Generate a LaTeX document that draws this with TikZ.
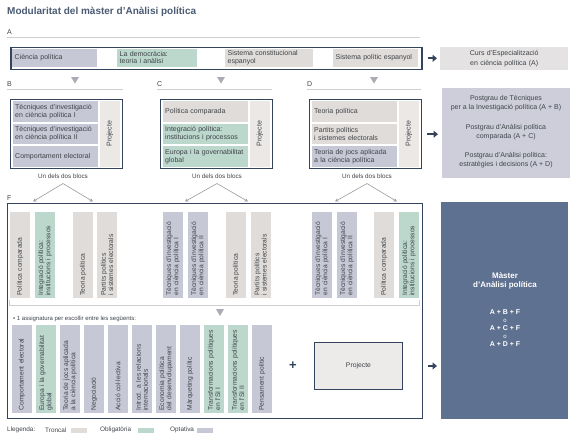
\documentclass[tikz,border=0pt]{standalone}
\usepackage{fontspec}
\setmainfont{Liberation Sans}
\usetikzlibrary{arrows.meta}
\definecolor{trc}{HTML}{E0DCD9}
\definecolor{obl}{HTML}{BCD8CC}
\definecolor{opt}{HTML}{C7C8D5}
\definecolor{prj}{HTML}{EBE8E6}
\definecolor{navy}{HTML}{34445C}
\definecolor{mst}{HTML}{5F7191}
\definecolor{cursc}{HTML}{E4E2E2}
\definecolor{pgc}{HTML}{CDCED9}
\definecolor{txt}{HTML}{3E4349}
\definecolor{ttl}{HTML}{4A5B73}
\definecolor{lgray}{HTML}{CFCFD2}
\definecolor{trig}{HTML}{ABABB3}
\definecolor{pickc}{HTML}{9A9AA2}
\definecolor{prjbox}{HTML}{ECEBEA}
\newcommand\cellfnt{\fontsize{7}{7.9}\selectfont\hyphenpenalty=10000 }
\newcommand\acellfnt{\fontsize{7}{7.3}\selectfont\hyphenpenalty=10000 }
\newcommand\colfnt{\fontsize{6.7}{7.2}\selectfont\hyphenpenalty=10000 }
\newcommand\smallfnt{\fontsize{6.3}{7}\selectfont}
\begin{document}
\begin{tikzpicture}[x=1pt,y=-1pt,
  hcell/.style={rectangle, anchor=north west, inner xsep=2.5pt, inner ysep=0pt, minimum height=20.5pt, text width=80pt, align=left, font=\cellfnt, text=txt},
  acell/.style={hcell, minimum height=18pt, font=\acellfnt},
  vcol/.style={rectangle, rotate=90, inner xsep=2.5pt, inner ysep=0pt, minimum height=20pt, align=left, font=\colfnt, text=txt},
  upcol/.style={vcol, text width=81pt},
  lowcol/.style={vcol, text width=83pt},
  prjcol/.style={rectangle, rotate=90, fill=prj, inner sep=0pt, minimum width=65.5pt, minimum height=20.5pt, font=\cellfnt, text=txt},
  blockbox/.style={rectangle, draw=navy, line width=1.4pt, anchor=north west, minimum width=112pt, minimum height=69pt, inner sep=0pt},
  sect/.style={anchor=west, inner sep=0pt, font=\fontsize{7}{8}\selectfont, text=txt},
  legtext/.style={anchor=west, inner sep=0pt, font=\fontsize{6.4}{8}\selectfont, text=txt},
  rulel/.style={draw=lgray, line width=0.7pt},
  bigarrow/.style={draw=navy, line width=2.2pt, -{Triangle[length=4.5pt,width=7pt]}},
  pick/.style={draw=pickc, line width=0.6pt, -{Stealth[length=3.5pt,width=3.5pt]}},
  blocs/.style={font=\smallfnt, text=txt, inner sep=1pt},
  info/.style={align=center, font=\cellfnt, text=txt, inner sep=0pt},
  panel/.style={rectangle, anchor=north west, inner sep=0pt}
]
\useasboundingbox (0,0) rectangle (580,440);
\fill[white] (0,0) rectangle (580,440);

% title
\node[anchor=west, inner sep=0pt, font=\bfseries\fontsize{10}{12}\selectfont, text=ttl] (title) at (7,12) {Modularitat del màster d’Anàlisi política};

% ---- A
\node[sect] (labA) at (7,32) {A};
\draw[rulel] (7,37) -- (420,37);
\node[panel, draw=navy, line width=1.6pt, minimum width=411pt, minimum height=22pt] (Abox) at (10,46.5) {};
\node[acell, fill=opt, text width=80pt] (a1) at (12,48.5) {Ciència política};
\node[acell, fill=obl, text width=75pt] (a2) at (117,48.5) {La democràcia:\\teoria i anàlisi};
\node[acell, fill=trc, text width=83pt] (a3) at (225,48.5) {Sistema constitucional\\espanyol};
\node[acell, fill=trc, text width=80pt] (a4) at (333,48.5) {Sistema polític espanyol};
\node[panel, fill=cursc, minimum width=128pt, minimum height=23pt] (curs) at (440,47) {};
\node[info, text width=126pt, font=\fontsize{7}{9.5}\selectfont] (cursT) at (curs.center) {Curs d’Especialització\\en ciència política (A)};
\draw[bigarrow, shorten <=5pt, shorten >=3pt] (Abox.east) -- (Abox.east -| curs.west);

% ---- section labels B C D
\node[sect] (labB) at (7,84) {B};
\node[sect] (labC) at (157,84) {C};
\node[sect] (labD) at (307,84) {D};
\draw[rulel] (7,89) -- (123,89);
\draw[rulel] (157,89) -- (272,89);
\draw[rulel] (307,89) -- (421,89);
\fill[trig] (71,77) -- (79,77) -- (75,83.5) -- cycle;
\fill[trig] (217,77) -- (225,77) -- (221,83.5) -- cycle;
\fill[trig] (370,77) -- (378,77) -- (374,83.5) -- cycle;

% ---- B
\node[blockbox] (Bbox) at (10,99) {};
\node[hcell, fill=opt] (b1) at (12.5,101) {Tècniques d’investigació\\en ciència política I};
\node[hcell, fill=opt] (b2) at (12.5,123.5) {Tècniques d’investigació\\en ciència política II};
\node[hcell, fill=opt] (b3) at (12.5,146) {Comportament electoral};
\node[prjcol] (bp) at (109.75,133.75) {Projecte};
% ---- C
\node[blockbox] (Cbox) at (160,99) {};
\node[hcell, fill=trc] (c1) at (162.5,101) {Política comparada};
\node[hcell, fill=obl] (c2) at (162.5,123.5) {Integració política:\\institucions i processos};
\node[hcell, fill=obl] (c3) at (162.5,146) {Europa i la governabilitat\\global};
\node[prjcol] (cp) at (259.75,133.75) {Projecte};
% ---- D
\node[blockbox] (Dbox) at (309,99) {};
\node[hcell, fill=trc] (d1) at (311.5,101) {Teoria política};
\node[hcell, fill=trc] (d2) at (311.5,123.5) {Partits polítics\\i sistemes electorals};
\node[hcell, fill=opt] (d3) at (311.5,146) {Teoria de jocs aplicada\\a la ciència política};
\node[prjcol] (dp) at (408.75,133.75) {Projecte};

% postgrau
\node[panel, fill=pgc, minimum width=128pt, minimum height=90pt] (pg) at (442,88) {};
\node[info, font=\fontsize{7}{9}\selectfont] (pg1) at (506,103.5) {Postgrau de Tècniques\\per a la Investigació política (A + B)};
\node[info, font=\fontsize{7}{9}\selectfont] (pg2) at (506,132.5) {Postgrau d’Anàlisi política\\comparada (A + C)};
\node[info, font=\fontsize{7}{9}\selectfont] (pg3) at (506,160.5) {Postgrau d’Anàlisi política:\\estratègies i decisions (A + D)};
\draw[bigarrow, shorten <=5pt, shorten >=4pt] (Dbox.east) -- (Dbox.east -| pg.west);

% un dels dos blocs
\node[blocs] (unB) at (63,176) {Un dels dos blocs};
\node[blocs] (unC) at (217,176) {Un dels dos blocs};
\node[blocs] (unD) at (367,176) {Un dels dos blocs};
\coordinate (pkB) at ([yshift=-4pt]unB.south);
\coordinate (pkC) at ([yshift=-4pt]unC.south);
\coordinate (pkD) at ([yshift=-4pt]unD.south);
\coordinate (gB1) at (33,201.5);
\coordinate (gB2) at (93,201.5);
\coordinate (gC1) at (185,201.5);
\coordinate (gC2) at (248,201.5);
\coordinate (gD1) at (335,201.5);
\coordinate (gD2) at (397,201.5);
\draw[pick] (pkB) -- (gB1);
\draw[pick] (pkB) -- (gB2);
\draw[pick] (pkC) -- (gC1);
\draw[pick] (pkC) -- (gC2);
\draw[pick] (pkD) -- (gD1);
\draw[pick] (pkD) -- (gD2);

% ---- F
\node[sect] (labF) at (7,198) {F};
\node[panel, draw=navy, line width=1.2pt, minimum width=415pt, minimum height=215pt] (Fbox) at (7,203) {};
% upper columns
\node[upcol, fill=trc] (f1) at (20,255) {Política comparada};
\node[upcol, fill=obl] (f2) at (45,255) {Integració política:\\institucions i processos};
\node[upcol, fill=trc] (f3) at (83,255) {Teoria política};
\node[upcol, fill=trc] (f4) at (107,255) {Partits polítics\\i sistemes electorals};
\node[upcol, fill=opt] (f5) at (173,255) {Tècniques d’investigació\\en ciència política I};
\node[upcol, fill=opt] (f6) at (198,255) {Tècniques d’investigació\\en ciència política II};
\node[upcol, fill=trc] (f7) at (236,255) {Teoria política};
\node[upcol, fill=trc] (f8) at (260.5,255) {Partits polítics\\i sistemes electorals};
\node[upcol, fill=opt] (f9) at (322,255) {Tècniques d’investigació\\en ciència política I};
\node[upcol, fill=opt] (f10) at (347,255) {Tècniques d’investigació\\en ciència política II};
\node[upcol, fill=trc] (f11) at (384,255) {Política comparada};
\node[upcol, fill=obl] (f12) at (409,255) {Integració política:\\institucions i processos};
% separator
\draw[rulel] (9.5,300) -- (9.5,305) -- (419.5,305) -- (419.5,300);
\fill[trig] (216,309) -- (224,309) -- (220,316) -- cycle;
\node[anchor=west, inner sep=0pt, font=\fontsize{6}{7}\selectfont, text=txt] (escollir) at (13,318.5) {\textbullet\ 1 assignatura per escollir entre les següents:};
% lower columns
\node[lowcol, fill=opt] (l1) at (22,369) {Comportament electoral};
\node[lowcol, fill=obl] (l2) at (46,369) {Europa i la governabilitat\\global};
\node[lowcol, fill=opt] (l3) at (70,369) {Teoria de jocs aplicada\\a la ciència política};
\node[lowcol, fill=opt] (l4) at (94,369) {Negociació};
\node[lowcol, fill=opt] (l5) at (118,369) {Acció col·lectiva};
\node[lowcol, fill=opt] (l6) at (142,369) {Introd. a les relacions\\internacionals};
\node[lowcol, fill=opt] (l7) at (166,369) {Economia política\\del desenvolupament};
\node[lowcol, fill=opt] (l8) at (190,369) {Màrqueting polític};
\node[lowcol, fill=obl] (l9) at (214,369) {Transformacions polítiques\\en l’SI I};
\node[lowcol, fill=obl] (l10) at (238,369) {Transformacions polítiques\\en l’SI II};
\node[lowcol, fill=opt] (l11) at (262,369) {Pensament polític};
\node[inner sep=0pt, font=\bfseries\fontsize{13}{13}\selectfont, text=navy] (plus) at (293,366) {+};
\node[panel, fill=prjbox, draw=navy, line width=0.9pt, minimum width=88pt, minimum height=47pt] (proj) at (314,342) {};
\node[inner sep=0pt, font=\fontsize{6.8}{8}\selectfont, text=txt] (projT) at (proj.center) {Projecte};

% master
\node[panel, fill=mst, minimum width=127pt, minimum height=217pt] (master) at (441,202) {};
\node[info, text=white, font=\bfseries\fontsize{8}{9}\selectfont] (mt) at (505,280.5) {Màster\\d’Anàlisi política};
\node[info, text=white, font=\bfseries\fontsize{7}{8}\selectfont] (mf) at (505,328) {A + B + F\\{\mdseries\fontsize{6}{8}\selectfont o}\\A + C + F\\{\mdseries\fontsize{6}{8}\selectfont o}\\A + D + F};
\draw[bigarrow, shorten <=5pt, shorten >=4pt] (Fbox.east |- proj.center) -- (master.west |- proj.center);

% legend
\node[legtext] (leg) at (7,430) {Llegenda:};
\node[legtext] (legT) at (45,430) {Troncal};
\fill[trc] (71,428) rectangle (87,432.5);
\node[legtext] (legO) at (100,430) {Obligatòria};
\fill[obl] (138,428) rectangle (154,432.5);
\node[legtext] (legP) at (170,430) {Optativa};
\fill[opt] (197,428) rectangle (213,432.5);
\end{tikzpicture}
\end{document}
